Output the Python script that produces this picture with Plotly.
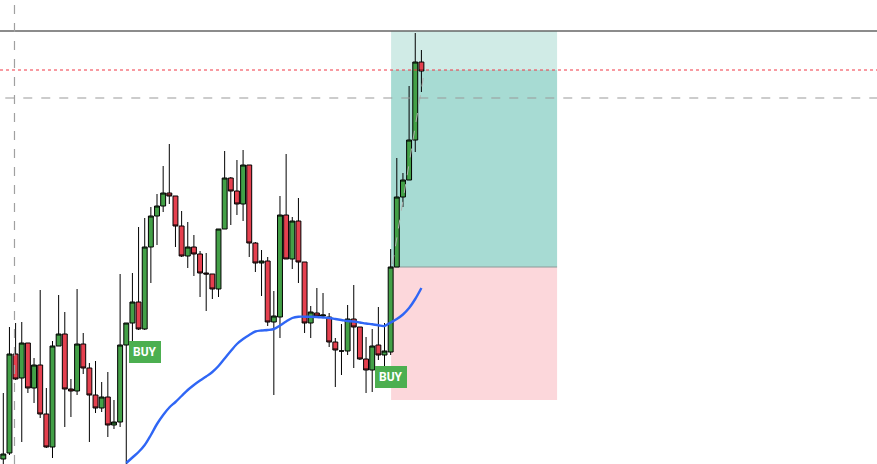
import plotly.graph_objects as go

# ---- candle data (price units, arbitrary scale) ----
opens  = [5, 11, 110, 86, 121, 76, 99, 50, 17, 118, 130, 75, 73, 120, 96, 69, 56, 67, 39, 42,
          119, 141, 162, 135, 217, 248, 258, 271, 268, 238, 208, 217, 210, 191, 190, 175, 235, 286, 273, 260,
          299, 221, 201, 203, 142, 147, 249, 205, 243, 202, 141, 151, 148, 147, 122, 113, 113, 145, 137, 105,
          94, 119, 109, 112, 197, 267, 284, 324, 402]
highs  = [71, 137, 141, 142, 121, 106, 174, 76, 123, 169, 152, 85, 175, 131, 101, 103, 82, 92, 64, 190,
          141, 191, 237, 246, 257, 270, 298, 320, 268, 253, 242, 229, 213, 211, 190, 235, 313, 287, 304, 314,
          299, 222, 214, 207, 173, 268, 310, 247, 266, 202, 158, 176, 171, 151, 126, 140, 159, 179, 137, 127,
          135, 157, 141, 215, 306, 291, 378, 431, 414]
lows   = [-2, 9, 84, 22, 71, 61, 46, 16, 6, 118, 37, 47, 69, 90, 22, 51, 52, 27, 35, 37,
          0, 111, 134, 134, 181, 219, 252, 260, 217, 207, 196, 188, 167, 153, 165, 167, 235, 239, 249, 243,
          207, 192, 168, 138, 69, 126, 205, 195, 181, 131, 126, 148, 147, 117, 77, 89, 109, 96, 104, 71,
          72, 104, 97, 109, 197, 257, 284, 312, 372]
closes = [10, 110, 85, 121, 76, 99, 50, 17, 118, 130, 75, 73, 120, 96, 69, 56, 67, 39, 42, 119,
          141, 162, 135, 217, 248, 258, 271, 268, 238, 208, 217, 210, 191, 190, 175, 235, 286, 273, 260, 299,
          221, 201, 203, 142, 148, 249, 205, 243, 202, 141, 152, 148, 149, 122, 114, 113, 145, 137, 105, 94,
          118, 109, 113, 197, 267, 284, 324, 402, 393]
bars = list(range(len(opens)))

# moving average (starts at bar 20)
ma_start = 20
ma_values = [1, 6.5, 12, 19, 29, 40, 49, 56.5, 62, 68, 74, 79, 83.5, 87.5, 92, 98, 105.5, 113, 120, 125,
             129, 132.5, 133.5, 134, 135, 138.5, 142.5, 146, 147.3, 147.3, 147.3, 147, 146.5, 146, 145, 144,
             143, 142.5, 141.5, 140.5, 139.7, 138.7, 138, 141.5, 145, 149.5, 156, 165, 176]
ma_bars = list(range(ma_start, ma_start + len(ma_values)))

# buy signals
buy_bars = [23, 63]
buy_lows = [134, 109]

# long position tool
pos_start, pos_end = 63.07, 90.07
entry_price, target_price, stop_price = 197, 433, 64
current_price = 394
high_line = 433
dashed_level = 366
cursor_bar = 1.82
trail_x = [63.3, 68.3]
trail_y = [200, 386]

fig = go.Figure()

# position zones
fig.add_shape(type="rect", x0=pos_start, x1=pos_end, y0=current_price, y1=target_price,
              fillcolor="#d0ebe6", line_width=0, layer="below")
fig.add_shape(type="rect", x0=pos_start, x1=pos_end, y0=entry_price, y1=current_price,
              fillcolor="#a7dbd3", line_width=0, layer="below")
fig.add_shape(type="rect", x0=pos_start, x1=pos_end, y0=stop_price, y1=entry_price,
              fillcolor="#fcd7db", line_width=0, layer="below")
fig.add_shape(type="line", x0=pos_start, x1=pos_end, y0=entry_price, y1=entry_price,
              line=dict(color="#8a9a98", width=1), layer="below")

# horizontal levels
fig.add_shape(type="line", xref="paper", x0=0, x1=1, y0=high_line, y1=high_line,
              line=dict(color="#666666", width=1.3))
fig.add_shape(type="line", xref="paper", x0=0, x1=1, y0=current_price, y1=current_price,
              line=dict(color="#f23645", width=1.2, dash="dot"))
fig.add_shape(type="line", xref="paper", x0=0.006, x1=1, y0=dashed_level, y1=dashed_level,
              line=dict(color="#9a9a9a", width=1.2, dash="dash"))
fig.add_shape(type="line", yref="paper", x0=cursor_bar, x1=cursor_bar, y0=0, y1=1,
              line=dict(color="#a0a0a0", width=1.2, dash="dash"))

# trail line
fig.add_trace(go.Scatter(x=trail_x, y=trail_y, mode="lines",
                         line=dict(color="#b0b0b0", width=1, dash="dash"), hoverinfo="skip"))

# moving average
fig.add_trace(go.Scatter(x=ma_bars, y=ma_values, mode="lines", line_shape="spline",
                         line=dict(color="#2f66f5", width=2.4), hoverinfo="skip"))

# candles
fig.add_trace(go.Candlestick(
    x=bars, open=opens, high=highs, low=lows, close=closes,
    increasing=dict(line=dict(color="#000000", width=1), fillcolor="#43a047"),
    decreasing=dict(line=dict(color="#000000", width=1), fillcolor="#e5404f"),
    whiskerwidth=0,
))

# BUY labels
for b, lo in zip(buy_bars, buy_lows):
    fig.add_annotation(x=b, y=lo, text="<b>BUY</b>", showarrow=False, yanchor="top", yshift=-11,
                       font=dict(family="Roboto, Arial", size=12, color="white"),
                       bgcolor="#4caf50", borderpad=4, bordercolor="#4caf50", borderwidth=0)

fig.update_layout(
    width=877, height=464, margin=dict(l=0, r=0, t=0, b=0),
    paper_bgcolor="white", plot_bgcolor="white", showlegend=False,
    boxgap=0.2, boxgroupgap=0,
    xaxis=dict(range=[-0.537, 142.1], visible=False, rangeslider=dict(visible=False)),
    yaxis=dict(range=[0, 464], visible=False),
)

fig.write_html("out.html", config={"displayModeBar": False},
               post_script="document.body.style.margin='0';document.body.style.overflow='hidden';")
